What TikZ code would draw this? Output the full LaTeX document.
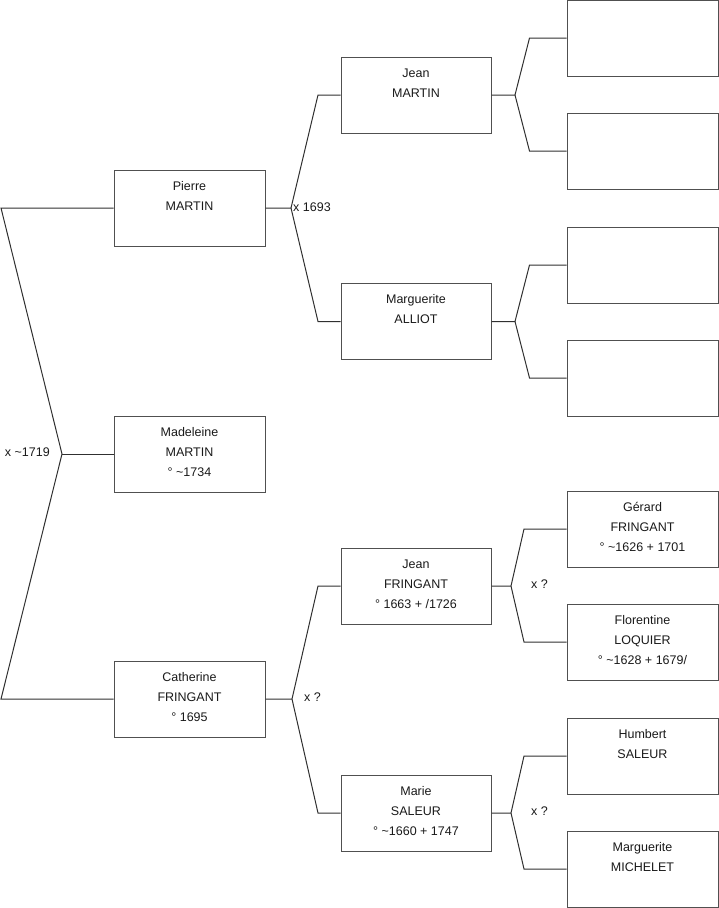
\documentclass[tikz,border=0pt]{standalone}
\usepackage{fontspec}
\setmainfont{Liberation Sans}
\newcommand\ps{\rule[-8pt]{0pt}{20pt}}
\begin{document}
\begin{tikzpicture}[x=1pt,y=-1pt,
  person/.style={draw=boxcol,line width=1pt,fill=white,minimum width=151pt,minimum height=76pt,
    inner sep=0pt,align=center,text=txtcol,font=\fontsize{12.5}{20}\selectfont},
  link/.style={draw=linecol,line width=1pt,line join=miter},
  lbl/.style={text=txtcol,font=\fontsize{12.5}{15}\selectfont,inner sep=0pt}]
\definecolor{boxcol}{HTML}{505050}
\definecolor{linecol}{HTML}{303030}
\definecolor{txtcol}{HTML}{1A1A1A}
\useasboundingbox (0,0) rectangle (719,908);
% column 1
\node[person] (pierre) at (189.5,208) {\ps Pierre\\\ps MARTIN\\\ps};
\node[person] (madeleine) at (189.5,454) {\ps Madeleine\\\ps MARTIN\\\ps ° \textasciitilde1734};
\node[person] (catherine) at (189.5,699) {\ps Catherine\\\ps FRINGANT\\\ps ° 1695};
% column 2
\node[person,minimum width=150pt] (jeanm) at (416,95) {\ps Jean\\\ps MARTIN\\\ps};
\node[person,minimum width=150pt] (marguerite) at (416,321.5) {\ps Marguerite\\\ps ALLIOT\\\ps};
\node[person,minimum width=150pt] (jeanf) at (416,586) {\ps Jean\\\ps FRINGANT\\\ps ° 1663 + /1726};
\node[person,minimum width=150pt] (marie) at (416,813) {\ps Marie\\\ps SALEUR\\\ps ° \textasciitilde1660 + 1747};
% column 3
\node[person] (p1) at (642.5,38) {};
\node[person] (p2) at (642.5,151) {};
\node[person] (p3) at (642.5,265) {};
\node[person] (p4) at (642.5,378) {};
\node[person] (gerard) at (642.5,529) {\ps Gérard\\\ps FRINGANT\\\ps ° \textasciitilde1626 + 1701};
\node[person] (florentine) at (642.5,642) {\ps Florentine\\\ps LOQUIER\\\ps ° \textasciitilde1628 + 1679/};
\node[person] (humbert) at (642.5,756) {\ps Humbert\\\ps SALEUR\\\ps};
\node[person] (marguerite2) at (642.5,869) {\ps Marguerite\\\ps MICHELET\\\ps};
% root connector
\coordinate (v0) at (62,454);
\coordinate (r0a) at (1,208);
\coordinate (r0b) at (1,699);
\draw[link] (pierre.west) -- (r0a) -- (v0) -- (r0b) -- (catherine.west);
\draw[link] (v0) -- (madeleine.west);
\node[lbl,anchor=east] (m0) at (50,452) {x \textasciitilde1719};
% Pierre
\coordinate (v1) at (291,208);
\coordinate (b1a) at (318,95);
\coordinate (b1b) at (318,321.5);
\draw[link] (pierre.east) -- (v1) -- (b1a) -- (jeanm.west);
\draw[link] (v1) -- (b1b) -- (marguerite.west);
\node[lbl,anchor=west] (m1) at (293,207) {x 1693};
% Catherine
\coordinate (v2) at (292,699);
\coordinate (b2a) at (318,586);
\coordinate (b2b) at (318,813);
\draw[link] (catherine.east) -- (v2) -- (b2a) -- (jeanf.west);
\draw[link] (v2) -- (b2b) -- (marie.west);
\node[lbl,anchor=west] (m2) at (304,697) {x ?};
% Jean MARTIN
\coordinate (v3) at (515,95);
\coordinate (b3a) at (529.5,38);
\coordinate (b3b) at (529.5,151);
\draw[link] (jeanm.east) -- (v3) -- (b3a) -- (p1.west);
\draw[link] (v3) -- (b3b) -- (p2.west);
% Marguerite ALLIOT
\coordinate (v4) at (515,321.5);
\coordinate (b4a) at (529.5,265);
\coordinate (b4b) at (529.5,378);
\draw[link] (marguerite.east) -- (v4) -- (b4a) -- (p3.west);
\draw[link] (v4) -- (b4b) -- (p4.west);
% Jean FRINGANT
\coordinate (v5) at (511,586);
\coordinate (b5a) at (524,529);
\coordinate (b5b) at (524,642);
\draw[link] (jeanf.east) -- (v5) -- (b5a) -- (gerard.west);
\draw[link] (v5) -- (b5b) -- (florentine.west);
\node[lbl,anchor=west] (m5) at (531,584) {x ?};
% Marie SALEUR
\coordinate (v6) at (511,813);
\coordinate (b6a) at (524,756);
\coordinate (b6b) at (524,869);
\draw[link] (marie.east) -- (v6) -- (b6a) -- (humbert.west);
\draw[link] (v6) -- (b6b) -- (marguerite2.west);
\node[lbl,anchor=west] (m6) at (531,811) {x ?};
\end{tikzpicture}
\end{document}
